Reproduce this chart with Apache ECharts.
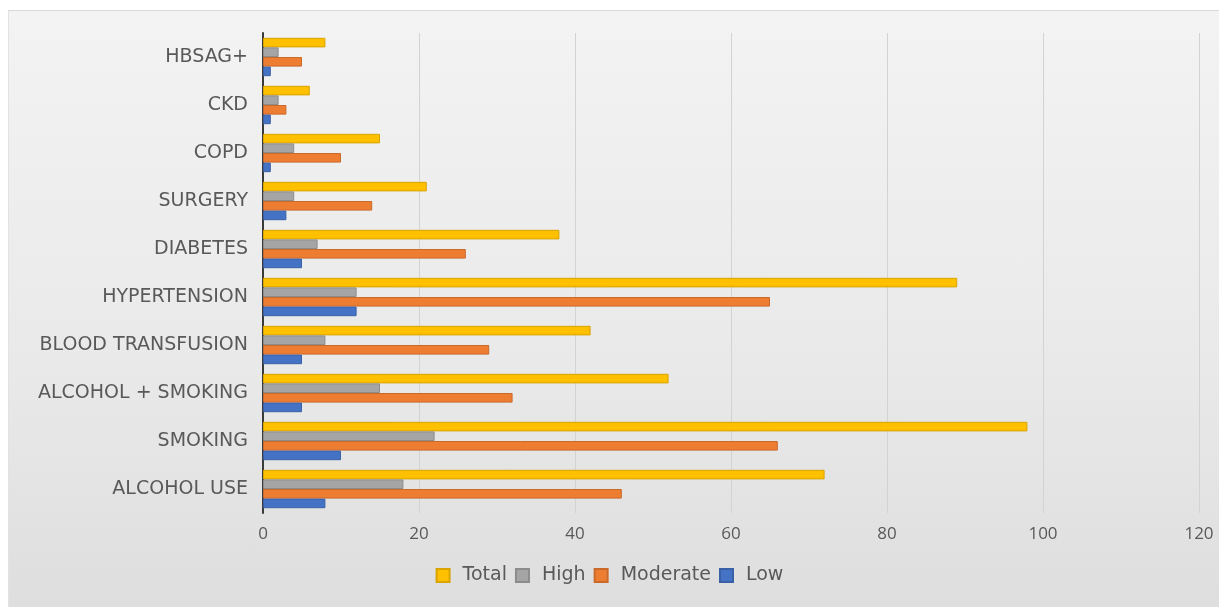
<!DOCTYPE html>
<html>
<head>
<meta charset="utf-8">
<script src="https://cdn.jsdelivr.net/npm/echarts@6/dist/echarts.min.js"></script>
<style>
    html, body { margin: 0; padding: 0; background: #ffffff; }
    #frame {
        position: absolute; left: 8px; top: 10px; width: 1211px; height: 597px;
        background: linear-gradient(to bottom, #f3f3f3 0%, #e9e9e9 60%, #dedede 100%);
        border-top: 1px solid #d8d8d8; border-left: 1px solid #e2e2e2;
    }
    #risk_bar { position: absolute; left: 0; top: 0; width: 1219px; height: 607px; }
</style>
</head>
<body>
<div id="frame"></div>
<div id="risk_bar"></div>
<script type="text/javascript">
    // categories, bottom to top
    var categories = ['ALCOHOL USE', 'SMOKING', 'ALCOHOL + SMOKING', 'BLOOD TRANSFUSION',
        'HYPERTENSION', 'DIABETES', 'SURGERY', 'COPD', 'CKD', 'HBSAG+'];
    var totalVals    = [72, 98, 52, 42, 89, 38, 21, 15, 6, 8];
    var highVals     = [18, 22, 15, 8, 12, 7, 4, 4, 2, 2];
    var moderateVals = [46, 66, 32, 29, 65, 26, 14, 10, 3, 5];
    var lowVals      = [8, 10, 5, 5, 12, 5, 3, 1, 1, 1];
    var xTicks = [0, 20, 40, 60, 80, 100, 120];

    var labelFont = '"Open Sans", "Liberation Sans", sans-serif';
    var catFont = '"DejaVu Sans", sans-serif';

    function barSeries(name, data, color, border) {
        return {
            name: name,
            type: 'bar',
            data: data,
            barGap: '0%',
            barCategoryGap: '20%',
            itemStyle: { color: color, borderColor: border, borderWidth: 1 }
        };
    }

    var chart = echarts.init(document.getElementById('risk_bar'));
    chart.setOption({
        animation: false,
        backgroundColor: 'transparent',
        grid: { left: 263, right: 20, top: 33, bottom: 94, containLabel: false },
        legend: {
            bottom: 17,
            left: 'center',
            itemWidth: 13,
            itemHeight: 13,
            itemGap: 8,
            icon: 'rect',
            textStyle: { color: '#595959', fontSize: 19, fontFamily: catFont, padding: [0, 0, 0, 8] },
            data: ['Total', 'High', 'Moderate', 'Low']
        },
        xAxis: {
            type: 'value',
            min: xTicks[0],
            max: xTicks[xTicks.length - 1],
            interval: 20,
            axisLine: { show: false },
            axisTick: { show: false },
            axisLabel: { color: '#595959', fontSize: 17, fontFamily: labelFont, margin: 13 },
            splitLine: { show: true, lineStyle: { color: '#d3d3d3', width: 1 } }
        },
        yAxis: {
            type: 'category',
            data: categories,
            axisLine: { show: true, lineStyle: { color: '#3a3a3a', width: 2 } },
            axisTick: { show: false },
            axisLabel: { color: '#595959', fontSize: 19, fontFamily: catFont, margin: 15 }
        },
        series: [
            barSeries('Total', totalVals, '#FFC000', '#d9a300'),
            barSeries('High', highVals, '#A5A5A5', '#8c8c8c'),
            barSeries('Moderate', moderateVals, '#ED7D31', '#c9692a'),
            barSeries('Low', lowVals, '#4472C4', '#3a61a7')
        ]
    });
</script>
</body>
</html>
